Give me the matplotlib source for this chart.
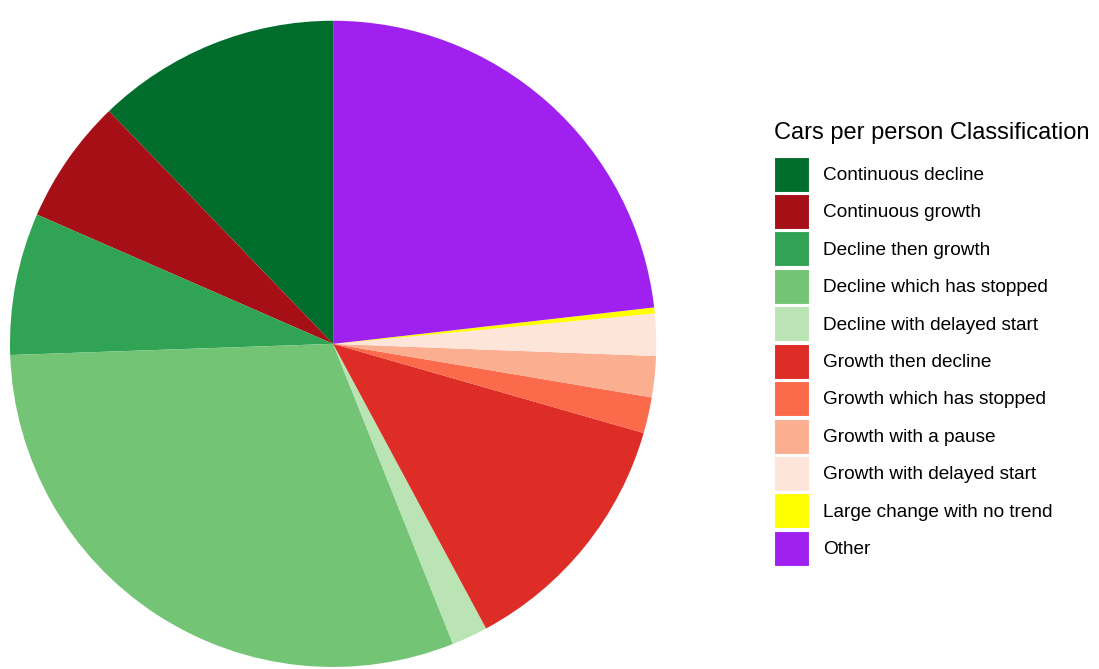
import matplotlib.pyplot as plt
from matplotlib.patches import Patch

plt.rcParams['font.family'] = ['Liberation Sans', 'DejaVu Sans']

categories = ['Continuous decline', 'Continuous growth', 'Decline then growth',
              'Decline which has stopped', 'Decline with delayed start',
              'Growth then decline', 'Growth which has stopped', 'Growth with a pause',
              'Growth with delayed start', 'Large change with no trend', 'Other']
shares = [12.2, 6.25, 7.1, 30.5, 1.8, 12.7, 1.8, 2.05, 2.1, 0.3, 23.2]
colors = ['#006d2c', '#a50f15', '#31a354', '#74c476', '#bae4b3', '#de2d26',
          '#fb6a4a', '#fcae91', '#fee5d9', '#ffff00', '#a020f0']

fig = plt.figure(figsize=(10.99, 6.69), dpi=100)
ax = fig.add_axes([0.0091, 0.003, 0.588, 0.966])
ax.pie(shares, colors=colors, startangle=90, counterclock=True, radius=1,
       wedgeprops=dict(linewidth=0))
ax.set_xlim(-1, 1)
ax.set_ylim(-1, 1)
ax.axis('off')

# legend title drawn separately so the gap above the keys can be set
fig.text(0.704, 0.801, 'Cars per person Classification', fontsize=17,
         ha='left', va='center')
handles = [Patch(facecolor=c, edgecolor='white', linewidth=0.8) for c in colors]
fig.legend(handles, categories, loc='upper left', bbox_to_anchor=(0.704, 0.766),
           frameon=False, fontsize=13.7, handlelength=1.84,
           handleheight=2.45, labelspacing=0.13, handletextpad=0.75, borderpad=0,
           borderaxespad=0)

fig.savefig('out.png', dpi=100)
